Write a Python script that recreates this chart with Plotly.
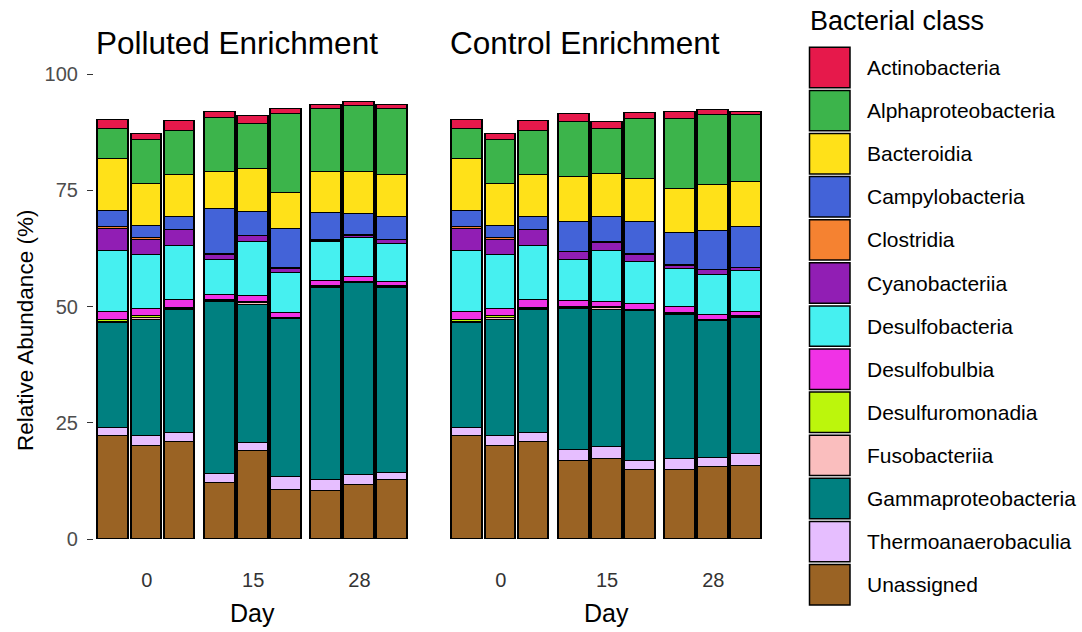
import plotly.graph_objects as go

# ---------------- data ----------------
days = ["0", "15", "28"]
panels = ["Polluted Enrichment", "Control Enrichment"]
n_reps = 3

classes = ["Actinobacteria", "Alphaproteobacteria", "Bacteroidia", "Campylobacteria",
           "Clostridia", "Cyanobacteriia", "Desulfobacteria", "Desulfobulbia",
           "Desulfuromonadia", "Fusobacteriia", "Gammaproteobacteria",
           "Thermoanaerobaculia", "Unassigned"]
colors = ["#E6194B", "#3CB44B", "#FFE119", "#4363D8", "#F58231", "#911EB4", "#46F0F0",
          "#F032E6", "#BCF60C", "#FABEBE", "#008080", "#E6BEFF", "#9A6324"]

# 18 values per class: Polluted (d0 r1-3, d15 r1-3, d28 r1-3), then Control (same order)
actinobacteria      = [2.0, 1.4, 2.1, 1.2, 1.6, 1.0, 0.9, 0.9, 0.8,   2.0, 1.4, 2.1, 1.8, 1.4, 1.3, 1.5, 1.1, 0.7]
alphaproteobacteria = [6.5, 9.4, 9.5, 11.6, 9.7, 17.1, 13.5, 14.1, 14.3, 6.5, 9.4, 9.5, 11.9, 9.7, 12.9, 15.1, 15.1, 14.5]
bacteroidia         = [11.2, 9.0, 9.1, 7.9, 9.3, 7.8, 8.9, 9.1, 9.0,  11.2, 9.0, 9.1, 9.5, 9.4, 9.1, 9.4, 9.9, 9.5]
campylobacteria     = [3.4, 2.6, 2.7, 9.8, 5.1, 8.3, 5.7, 4.4, 4.9,   3.4, 2.6, 2.7, 6.5, 5.4, 7.0, 6.8, 8.3, 8.8]
clostridia          = [0.5, 0.5, 0.1, 0.1, 0.1, 0.3, 0.3, 0.3, 0.1,   0.5, 0.5, 0.1, 0.1, 0.1, 0.1, 0.2, 0.1, 0.1]
cyanobacteriia      = [4.7, 3.3, 3.4, 1.2, 1.3, 0.8, 0.3, 0.4, 0.8,   4.7, 3.3, 3.4, 1.7, 1.7, 1.5, 0.7, 1.1, 0.7]
desulfobacteria     = [13.0, 11.5, 11.5, 7.4, 11.6, 8.6, 8.2, 8.4, 8.1, 13.0, 11.5, 11.5, 8.7, 11.1, 9.1, 8.2, 8.4, 8.8]
desulfobulbia       = [1.8, 1.6, 1.7, 1.1, 1.1, 1.0, 1.2, 1.0, 0.9,   1.8, 1.6, 1.7, 1.3, 1.0, 1.3, 1.3, 1.1, 0.9]
desulfuromonadia    = [0.5, 0.3, 0.3, 0.3, 0.3, 0.1, 0.2, 0.2, 0.3,   0.5, 0.3, 0.3, 0.3, 0.3, 0.2, 0.1, 0.1, 0.1]
fusobacteriia       = [0.2, 0.4, 0.2, 0.3, 0.4, 0.1, 0.2, 0.2, 0.2,   0.2, 0.4, 0.2, 0.2, 0.3, 0.1, 0.2, 0.1, 0.2]
gammaproteobacteria = [22.5, 25.1, 26.5, 36.8, 29.7, 34.0, 41.2, 41.3, 39.8, 22.5, 25.1, 26.5, 30.4, 29.4, 32.3, 31.1, 29.5, 29.3]
thermoanaerobaculia = [1.8, 2.1, 2.0, 2.0, 1.8, 2.9, 2.5, 2.0, 1.4,   1.8, 2.1, 2.0, 2.2, 2.7, 1.9, 2.3, 2.0, 2.5]
unassigned          = [22.0, 19.9, 20.7, 12.0, 18.8, 10.4, 10.2, 11.6, 12.7, 22.0, 19.9, 20.7, 16.8, 17.1, 14.7, 14.8, 15.4, 15.7]

values = {
    "Actinobacteria": actinobacteria, "Alphaproteobacteria": alphaproteobacteria,
    "Bacteroidia": bacteroidia, "Campylobacteria": campylobacteria,
    "Clostridia": clostridia, "Cyanobacteriia": cyanobacteriia,
    "Desulfobacteria": desulfobacteria, "Desulfobulbia": desulfobulbia,
    "Desulfuromonadia": desulfuromonadia, "Fusobacteriia": fusobacteriia,
    "Gammaproteobacteria": gammaproteobacteria, "Thermoanaerobaculia": thermoanaerobaculia,
    "Unassigned": unassigned,
}

# ---------------- layout helpers ----------------
W, H = 1082, 632
FONT = "Liberation Sans, Arial, sans-serif"
group_step = 3.21
xpos = [g * group_step + r for g in range(len(days)) for r in range(n_reps)]
tickpos = [g * group_step + 1 for g in range(len(days))]
xrange_ = [-0.6, 8.96]
unit_px = 33.1
p1_left = 113.8 - 0.6 * unit_px
p2_left = p1_left + 353.9
pw = (xrange_[1] - xrange_[0]) * unit_px
yr = [-5, 101]
px_per = 4.65
y_bot_px = 539 + 5 * px_per
y_top_px = 539 - 101 * px_per

def fx(px):
    return px / W

def fy(py):
    return (H - py) / H

fig = go.Figure()
color_of = dict(zip(classes, colors))
stack_order = list(reversed(classes))
for pi, axis in enumerate(["x", "x2"]):
    for cls in stack_order:
        vals = values[cls][pi * 9:(pi + 1) * 9]
        fig.add_trace(go.Bar(
            x=xpos, y=vals, width=0.93, name=cls, showlegend=False,
            xaxis=axis, yaxis="y" if pi == 0 else "y2",
            marker=dict(color=color_of[cls], line=dict(color="black", width=1.6)),
        ))

axis_common = dict(range=xrange_, showgrid=False, zeroline=False, showline=False,
                   tickmode="array", tickvals=tickpos, ticktext=days, ticks="",
                   tickfont=dict(family=FONT, size=20, color="#333333"),
                   automargin=False, fixedrange=True)
fig.update_layout(
    template="none",
    width=W, height=H,
    margin=dict(l=0, r=0, t=0, b=0),
    paper_bgcolor="white", plot_bgcolor="white",
    barmode="stack", bargap=0,
    showlegend=False,
    xaxis=dict(domain=[fx(p1_left), fx(p1_left + pw)], anchor="y", ticklabelstandoff=4, **axis_common),
    xaxis2=dict(domain=[fx(p2_left), fx(p2_left + pw)], anchor="y2", ticklabelstandoff=4, **axis_common),
    yaxis=dict(domain=[fy(y_bot_px), fy(y_top_px)], range=yr, anchor="x",
               tickvals=[0, 25, 50, 75, 100], ticks="outside", ticklen=6, tickwidth=1,
               tickcolor="#333333", showgrid=False, zeroline=False, showline=False,
               tickfont=dict(family=FONT, size=20, color="#4D4D4D"),
               ticklabelstandoff=5, automargin=False, fixedrange=True),
    yaxis2=dict(domain=[fy(y_bot_px), fy(y_top_px)], range=yr, anchor="x2",
                showticklabels=False, ticks="", showgrid=False, zeroline=False,
                showline=False, automargin=False, fixedrange=True),
)

annotations = []
shapes = []
# panel titles
for pi, left in enumerate([p1_left, p2_left]):
    annotations.append(dict(text=panels[pi], xref="paper", yref="paper",
                            x=fx(left), y=fy(43), xanchor="left", yanchor="middle",
                            showarrow=False, font=dict(family=FONT, size=31.5, color="black")))
    annotations.append(dict(text="Day", xref="paper", yref="paper",
                            x=fx(left + pw / 2), y=fy(613), xanchor="center", yanchor="middle",
                            showarrow=False, font=dict(family=FONT, size=25, color="black")))
annotations.append(dict(text="Relative Abundance (%)", xref="paper", yref="paper",
                        x=fx(25), y=fy(331), xanchor="center", yanchor="middle",
                        textangle=-90, showarrow=False,
                        font=dict(family=FONT, size=22.5, color="black")))
# legend (manual)
annotations.append(dict(text="Bacterial class", xref="paper", yref="paper",
                        x=fx(808), y=fy(21), xanchor="left", yanchor="middle",
                        showarrow=False, font=dict(family=FONT, size=27, color="black")))
for i, (cls, col) in enumerate(zip(classes, colors)):
    top = 47.3 + 43.1 * i
    shapes.append(dict(type="rect", xref="paper", yref="paper",
                       x0=fx(809.5), x1=fx(850), y0=fy(top + 40.4), y1=fy(top),
                       fillcolor=col, line=dict(color="black", width=1.5)))
    annotations.append(dict(text=cls, xref="paper", yref="paper",
                            x=fx(865), y=fy(top + 20.2), xanchor="left", yanchor="middle",
                            showarrow=False, font=dict(family=FONT, size=21, color="black")))
fig.update_layout(annotations=annotations, shapes=shapes)

fig.write_html("out.html")
